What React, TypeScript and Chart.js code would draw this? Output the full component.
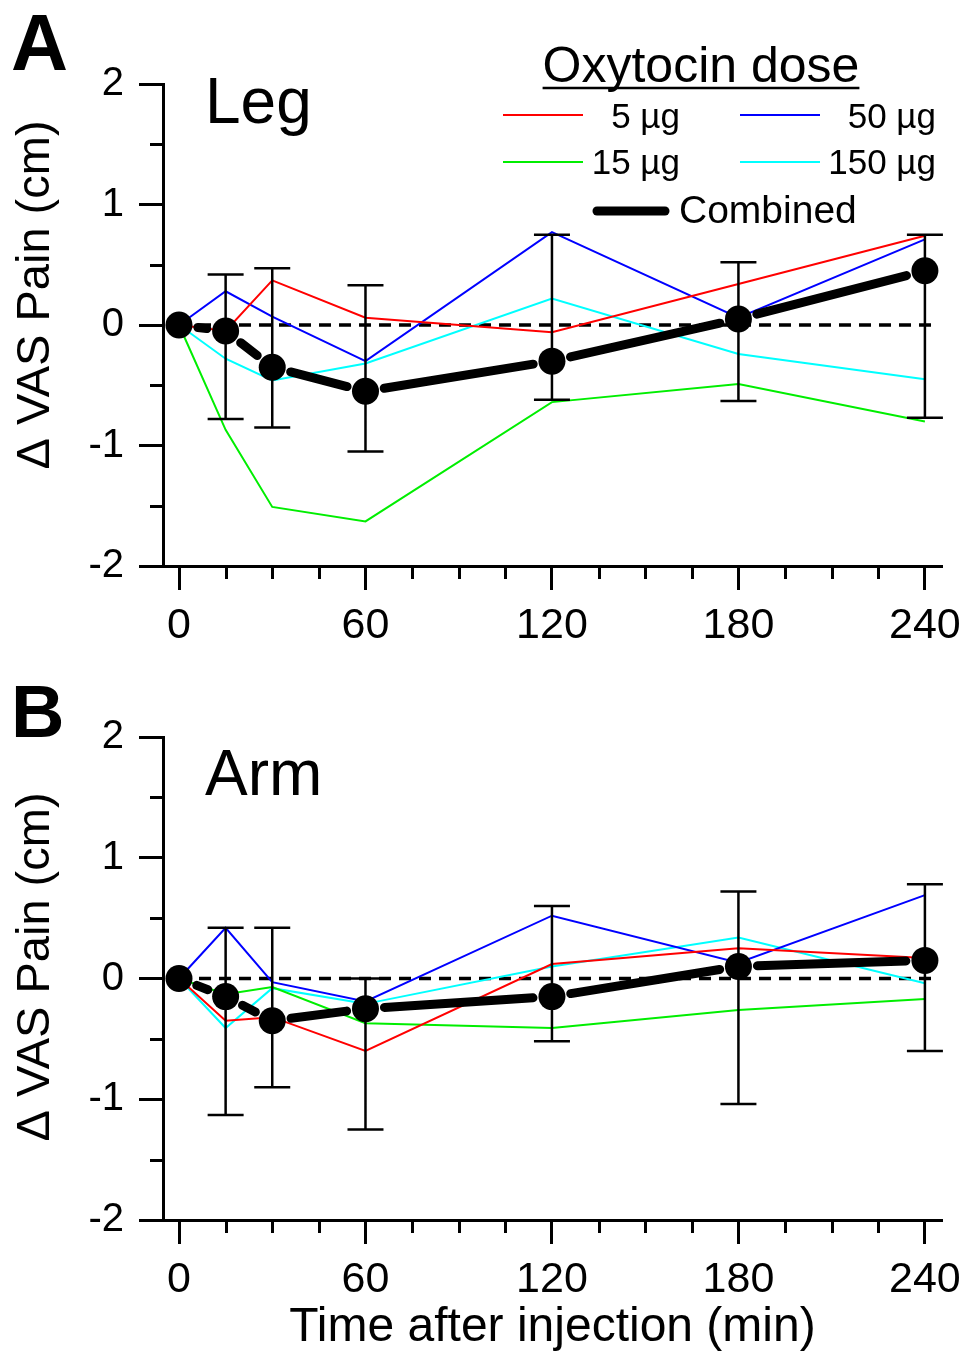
import React, { useEffect, useRef } from 'react';
import { Chart, registerables } from 'chart.js';

Chart.register(...registerables);

// ---------- data ----------
const TIMES = [0, 15, 30, 60, 120, 180, 240];
const X_TICKS = [0, 15, 30, 45, 60, 75, 90, 105, 120, 135, 150, 165, 180, 195, 210, 225, 240];
const Y_TICKS = [-2, -1.5, -1, -0.5, 0, 0.5, 1, 1.5, 2];
const ZERO_LINE_X = [0, 243];

const DOSE_LABELS = ['5 µg', '15 µg', '50 µg', '150 µg'];
const DOSE_COLORS = ['#ff0000', '#00ee00', '#0000ff', '#00ffff'];
const COMBINED_LABEL = 'Combined';

// Panel A: Leg
const LEG_5 = [0, -0.05, 0.37, 0.06, -0.06, 0.34, 0.74];
const LEG_15 = [0, -0.87, -1.51, -1.63, -0.64, -0.49, -0.8];
const LEG_50 = [0, 0.28, 0.07, -0.3, 0.77, 0.06, 0.71];
const LEG_150 = [0, -0.28, -0.46, -0.32, 0.22, -0.24, -0.45];
const LEG_COMBINED = [0, -0.05, -0.35, -0.55, -0.3, 0.05, 0.45];
const LEG_UPPER = [null, 0.42, 0.47, 0.33, 0.75, 0.52, 0.75];
const LEG_LOWER = [null, -0.78, -0.85, -1.05, -0.62, -0.63, -0.77];

// Panel B: Arm
const ARM_5 = [0, -0.35, -0.32, -0.6, 0.12, 0.25, 0.17];
const ARM_15 = [0, -0.13, -0.07, -0.37, -0.41, -0.26, -0.17];
const ARM_50 = [0, 0.42, -0.03, -0.19, 0.52, 0.13, 0.69];
const ARM_150 = [0, -0.41, -0.08, -0.21, 0.1, 0.34, -0.04];
const ARM_COMBINED = [0, -0.15, -0.35, -0.25, -0.15, 0.1, 0.15];
const ARM_UPPER = [null, 0.42, 0.42, 0.0, 0.6, 0.72, 0.78];
const ARM_LOWER = [null, -1.13, -0.9, -1.25, -0.52, -1.04, -0.6];

const Y_TITLE = 'Δ VAS Pain (cm)';
const X_TITLE = 'Time after injection (min)';
const LEGEND_TITLE = 'Oxytocin dose';

const FONT = "'Liberation Sans', Arial, Helvetica, sans-serif";

type PanelSpec = {
  height: number;
  top: number;
  plotTop: number;
  plotBottom: number;
  letter: string;
  letterSize: number;
  letterBaseline: number;
  region: string;
  regionBaseline: number;
  yTitleCenter: number;
  showLegend: boolean;
  showXTitle: boolean;
  doses: number[][];
  combined: number[];
  upper: (number | null)[];
  lower: (number | null)[];
};

const PANELS: PanelSpec[] = [
  {
    height: 660, top: 0, plotTop: 84, plotBottom: 566,
    letter: 'A', letterSize: 79, letterBaseline: 70,
    region: 'Leg', regionBaseline: 123, yTitleCenter: 295,
    showLegend: true, showXTitle: false,
    doses: [LEG_5, LEG_15, LEG_50, LEG_150], combined: LEG_COMBINED,
    upper: LEG_UPPER, lower: LEG_LOWER,
  },
  {
    height: 697, top: 660, plotTop: 77, plotBottom: 560,
    letter: 'B', letterSize: 74, letterBaseline: 77,
    region: 'Arm', regionBaseline: 135, yTitleCenter: 307,
    showLegend: false, showXTitle: true,
    doses: [ARM_5, ARM_15, ARM_50, ARM_150], combined: ARM_COMBINED,
    upper: ARM_UPPER, lower: ARM_LOWER,
  },
];

const PLOT_LEFT = 163;
const PLOT_RIGHT = 942;
const X_MIN = -5.15;
const X_MAX = 245.5;

// ---------- plugins ----------
const minorTicksPlugin = {
  id: 'minorTicks',
  afterDraw(chart: any) {
    const { ctx, chartArea } = chart;
    const xs = chart.scales.x;
    const ys = chart.scales.y;
    ctx.save();
    ctx.strokeStyle = '#000';
    ctx.lineWidth = 3;
    ctx.beginPath();
    X_TICKS.filter((v) => v % 60 !== 0).forEach((v) => {
      const px = Math.round(xs.getPixelForValue(v)) + 0.5;
      ctx.moveTo(px, chartArea.bottom);
      ctx.lineTo(px, chartArea.bottom + 13);
    });
    Y_TICKS.filter((v) => !Number.isInteger(v)).forEach((v) => {
      const py = Math.round(ys.getPixelForValue(v)) + 0.5;
      ctx.moveTo(chartArea.left, py);
      ctx.lineTo(chartArea.left - 13, py);
    });
    ctx.stroke();
    ctx.restore();
  },
};

const combinedPlugin = {
  id: 'combinedLine',
  beforeDatasetDraw(chart: any, args: any) {
    const ds = chart.data.datasets[args.index];
    if (!ds.isCombined) return;
    const { ctx } = chart;
    const xs = chart.scales.x;
    const ys = chart.scales.y;
    const pts = ds.data.map((d: any) => ({ x: xs.getPixelForValue(d.x), y: ys.getPixelForValue(d.y) }));
    // error bars
    ctx.save();
    ctx.strokeStyle = '#000';
    ctx.lineWidth = 2.5;
    ctx.beginPath();
    ds.data.forEach((d: any, i: number) => {
      const up = ds.errUpper[i];
      const lo = ds.errLower[i];
      if (up === null || lo === null) return;
      const px = xs.getPixelForValue(d.x);
      const pu = ys.getPixelForValue(up);
      const pl = ys.getPixelForValue(lo);
      ctx.moveTo(px, pu);
      ctx.lineTo(px, pl);
      ctx.moveTo(px - 18, pu);
      ctx.lineTo(px + 18, pu);
      ctx.moveTo(px - 18, pl);
      ctx.lineTo(px + 18, pl);
    });
    ctx.stroke();
    // combined line with gaps at symbols
    const GAP = 19;
    ctx.lineWidth = 9;
    ctx.lineCap = 'round';
    ctx.beginPath();
    for (let i = 0; i < pts.length - 1; i++) {
      const p = pts[i];
      const q = pts[i + 1];
      const dx = q.x - p.x;
      const dy = q.y - p.y;
      const len = Math.hypot(dx, dy);
      if (len <= 2 * GAP) continue;
      const ux = dx / len;
      const uy = dy / len;
      ctx.moveTo(p.x + ux * GAP, p.y + uy * GAP);
      ctx.lineTo(q.x - ux * GAP, q.y - uy * GAP);
    }
    ctx.stroke();
    ctx.restore();
  },
};

function makeTextPlugin(spec: PanelSpec) {
  return {
    id: 'panelText',
    afterDraw(chart: any) {
      const { ctx } = chart;
      ctx.save();
      ctx.fillStyle = '#000';
      ctx.textBaseline = 'alphabetic';
      // panel letter
      ctx.font = `bold ${spec.letterSize}px ${FONT}`;
      ctx.textAlign = 'left';
      ctx.fillText(spec.letter, 11, spec.letterBaseline);
      // region
      ctx.font = `64px ${FONT}`;
      ctx.fillText(spec.region, 205, spec.regionBaseline);
      // y title
      ctx.save();
      ctx.translate(36, spec.yTitleCenter);
      ctx.rotate(-Math.PI / 2);
      ctx.textAlign = 'center';
      ctx.textBaseline = 'middle';
      ctx.font = `47px ${FONT}`;
      ctx.fillText(Y_TITLE, 0, 0);
      ctx.restore();

      if (spec.showLegend) {
        ctx.textAlign = 'center';
        ctx.font = `50px ${FONT}`;
        ctx.fillText(LEGEND_TITLE, 701, 82);
        const w = ctx.measureText(LEGEND_TITLE).width;
        ctx.strokeStyle = '#000';
        ctx.lineWidth = 2.5;
        ctx.beginPath();
        ctx.moveTo(701 - w / 2, 88);
        ctx.lineTo(701 + w / 2, 88);
        ctx.stroke();

        const items = [
          { i: 0, lx: 503, ly: 115, tx: 680, ty: 128 },
          { i: 1, lx: 503, ly: 162, tx: 680, ty: 174 },
          { i: 2, lx: 740, ly: 115, tx: 936, ty: 128 },
          { i: 3, lx: 740, ly: 162, tx: 936, ty: 174 },
        ];
        ctx.font = `35px ${FONT}`;
        ctx.textAlign = 'right';
        items.forEach((it) => {
          ctx.strokeStyle = DOSE_COLORS[it.i];
          ctx.lineWidth = 2;
          ctx.beginPath();
          ctx.moveTo(it.lx, it.ly);
          ctx.lineTo(it.lx + 80, it.ly);
          ctx.stroke();
          ctx.fillText(DOSE_LABELS[it.i], it.tx, it.ty);
        });
        ctx.strokeStyle = '#000';
        ctx.lineWidth = 9;
        ctx.lineCap = 'round';
        ctx.beginPath();
        ctx.moveTo(597, 211);
        ctx.lineTo(665, 211);
        ctx.stroke();
        ctx.textAlign = 'left';
        ctx.font = `39px ${FONT}`;
        ctx.fillText(COMBINED_LABEL, 679, 223);
      }
      ctx.restore();
    },
  };
}

function buildConfig(spec: PanelSpec): any {
  const toXY = (vals: number[]) => TIMES.map((t, i) => ({ x: t, y: vals[i] }));
  const datasets: any[] = [
    {
      label: 'zero',
      data: ZERO_LINE_X.map((x) => ({ x, y: 0 })),
      borderColor: '#000',
      borderWidth: 3.5,
      borderDash: [12, 8],
      pointRadius: 0,
      order: 3,
    },
    ...spec.doses.map((vals, i) => ({
      label: DOSE_LABELS[i],
      data: toXY(vals),
      borderColor: DOSE_COLORS[i],
      borderWidth: 2,
      pointRadius: 0,
      tension: 0,
      order: 2,
    })),
    {
      label: COMBINED_LABEL,
      data: toXY(spec.combined),
      isCombined: true,
      errUpper: spec.upper,
      errLower: spec.lower,
      showLine: false,
      pointRadius: 13.5,
      pointBackgroundColor: '#000',
      pointBorderWidth: 0,
      borderColor: '#000',
      order: 0,
    },
  ];

  return {
    type: 'line',
    data: { datasets },
    options: {
      animation: false,
      responsive: false,
      devicePixelRatio: 1,
      events: [],
      layout: { padding: { top: spec.plotTop, right: 965 - PLOT_RIGHT, left: 0, bottom: 0 } },
      plugins: { legend: { display: false }, tooltip: { enabled: false }, title: { display: false } },
      scales: {
        x: {
          type: 'linear',
          min: X_MIN,
          max: X_MAX,
          afterBuildTicks: (scale: any) => {
            scale.ticks = X_TICKS.map((v) => ({ value: v }));
          },
          afterFit: (scale: any) => {
            scale.height = spec.height - spec.plotBottom;
            scale.paddingLeft = 0;
            scale.paddingRight = 0;
          },
          border: { display: true, color: '#000', width: 3 },
          grid: {
            drawOnChartArea: false,
            drawTicks: true,
            tickLength: 24,
            tickWidth: 3,
            tickColor: (c: any) => (c.tick && c.tick.value % 60 === 0 ? '#000' : 'rgba(0,0,0,0)'),
          },
          ticks: {
            autoSkip: false,
            maxRotation: 0,
            color: '#000',
            padding: 10,
            font: { family: FONT, size: 43 },
            callback: (v: any) => (Number(v) % 60 === 0 ? String(v) : ''),
          },
          title: {
            display: spec.showXTitle,
            text: X_TITLE,
            color: '#000',
            font: { family: FONT, size: 48 },
            padding: { top: 0, bottom: 0 },
          },
        },
        y: {
          type: 'linear',
          min: -2,
          max: 2,
          afterBuildTicks: (scale: any) => {
            scale.ticks = Y_TICKS.map((v) => ({ value: v }));
          },
          afterFit: (scale: any) => {
            scale.width = PLOT_LEFT;
            scale.paddingTop = 0;
            scale.paddingBottom = 0;
          },
          border: { display: true, color: '#000', width: 3 },
          grid: {
            drawOnChartArea: false,
            drawTicks: true,
            tickLength: 24,
            tickWidth: 3,
            tickColor: (c: any) => (c.tick && Number.isInteger(c.tick.value) ? '#000' : 'rgba(0,0,0,0)'),
          },
          ticks: {
            color: '#000',
            padding: 15,
            font: { family: FONT, size: 40 },
            callback: (v: any) => (Number.isInteger(Number(v)) ? String(v) : ''),
          },
        },
      },
    },
    plugins: [minorTicksPlugin, combinedPlugin, makeTextPlugin(spec)],
  };
}

function Panel({ spec }: { spec: PanelSpec }) {
  const ref = useRef<HTMLCanvasElement | null>(null);
  useEffect(() => {
    if (!ref.current) return;
    const chart = new Chart(ref.current, buildConfig(spec));
    return () => chart.destroy();
  }, [spec]);
  return (
    <canvas
      ref={ref}
      width={965}
      height={spec.height}
      style={{ position: 'absolute', left: 0, top: spec.top, width: 965, height: spec.height, display: 'block' }}
    />
  );
}

export default function App() {
  useEffect(() => {
    document.body.style.margin = '0';
    document.body.style.background = '#fff';
  }, []);
  return (
    <div style={{ position: 'relative', width: 965, height: 1357, background: '#fff', overflow: 'hidden' }}>
      {PANELS.map((p) => (
        <Panel key={p.letter} spec={p} />
      ))}
    </div>
  );
}
